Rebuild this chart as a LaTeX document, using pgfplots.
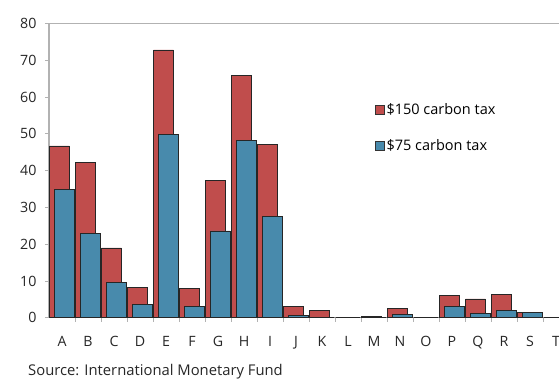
\documentclass[border=0pt]{standalone}
\usepackage{pgfplots}
\pgfplotsset{compat=1.18}
\usepackage{fontspec}
\setmainfont{Open Sans}
\definecolor{cred}{RGB}{192,77,76}
\definecolor{cblue}{RGB}{72,138,172}
\definecolor{axgray}{RGB}{178,178,178}
\begin{document}
\begin{tikzpicture}[x=1pt,y=1pt]
\begin{axis}[
  at={(0,0)}, anchor=south west,
  scale only axis,
  width=520pt, height=294.2pt,
  xmin=-0.5, xmax=19.5,
  ymin=0, ymax=80,
  ytick={0,10,...,80},
  xtick={0,...,19},
  xticklabels={A,B,C,D,E,F,G,H,I,J,K,L,M,N,O,P,Q,R,S,T},
  minor x tick num=1,
  xtick pos=bottom,
  ytick pos=left,
  axis line style={axgray, line width=1.4pt},
  x tick style={draw=none},
  minor x tick style={draw=axgray, line width=0.8pt},
  y tick style={axgray, line width=0.8pt},
  ytick align=outside,
  xtick align=inside,
  major tick length=4pt,
  minor tick length=4pt,
  tick label style={font=\fontsize{14.2}{16}\selectfont, text=black!85},
  /pgf/number format/assume math mode=true,
  yticklabel style={xshift=-5pt},
  xticklabel style={yshift=-11pt},
  ybar, bar width=0.76,
  enlargelimits=false,
  clip=false,
  legend style={at={(0.62,0.743)}, anchor=north west, draw=none, fill=none,
    font=\fontsize{14.5}{16}\selectfont, row sep=20pt,
    /tikz/every even column/.append style={column sep=2pt}},
  legend image code/.code={\draw[#1,draw=black!80,line width=0.4pt] (0pt,-4.5pt) rectangle (9.5pt,4.5pt);},
  legend cell align=left,
]
\addplot[fill=cred, draw=black!85, line width=0.6pt, bar shift=-0.1] coordinates {
(0,46.7) (1,42.3) (2,19.0) (3,8.2) (4,72.8) (5,7.9) (6,37.4) (7,65.9) (8,47.1) (9,3.0)
(10,2.0) (11,0) (12,0.3) (13,2.5) (14,0) (15,6.0) (16,5.1) (17,6.3) (18,1.4) (19,0)};
\addlegendentry{\$150 carbon tax}
\addplot[fill=cblue, draw=black!85, line width=0.6pt, bar shift=0.1] coordinates {
(0,34.9) (1,22.9) (2,9.7) (3,3.6) (4,49.9) (5,3.0) (6,23.6) (7,48.2) (8,27.6) (9,0.7)
(10,0) (11,0) (12,0) (13,1.0) (14,0) (15,3.0) (16,1.2) (17,2.0) (18,1.5) (19,0)};
\addlegendentry{\$75 carbon tax}
\end{axis}
\node[anchor=west, font=\fontsize{14.8}{16}\selectfont, text=black!85, inner sep=0pt] at (-21,-54) {Source: International Monetary Fund};
\pgfresetboundingbox
\useasboundingbox (-49,-63.3) rectangle (510,317.7);
\end{tikzpicture}
\end{document}
